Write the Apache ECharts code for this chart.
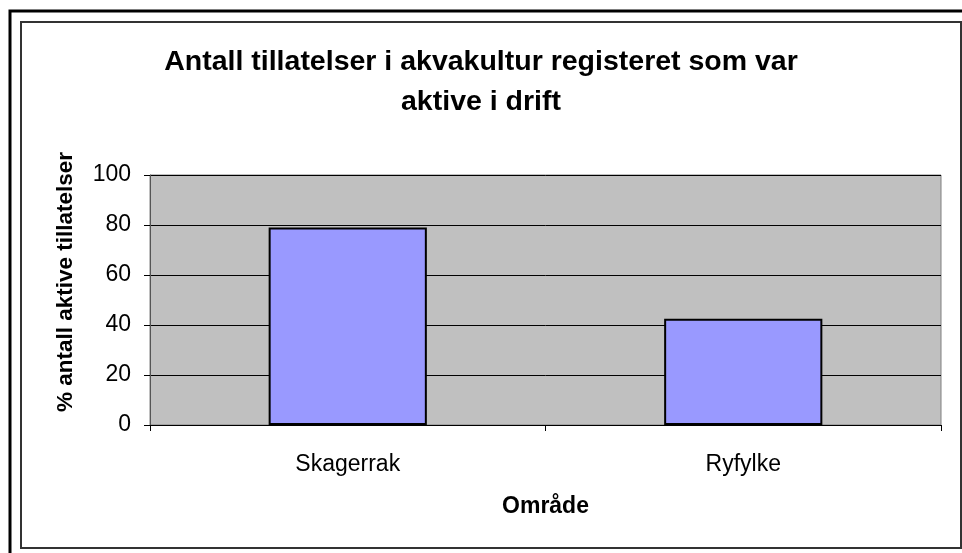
<!DOCTYPE html>
<html>
<head>
<meta charset="utf-8">
<script src="https://cdn.jsdelivr.net/npm/echarts@6/dist/echarts.min.js"></script>
<style>
  html, body { margin: 0; padding: 0; background: #fff; }
  #chart { width: 962px; height: 553px; }
</style>
</head>
<body>
<div id="chart"></div>
<script>
// data
const categories = ["Skagerrak", "Ryfylke"];
const activeShare = [79, 42.5];
const yTicks = [0, 20, 40, 60, 80, 100];

const font = "Liberation Sans, Arial, sans-serif";
let myChart = echarts.init(document.getElementById("chart"));

let option = {
  animation: false,
  backgroundColor: "#fff",
  title: {
    text: "Antall tillatelser i akvakultur registeret som var\naktive i drift",
    left: "center",
    top: 37,
    textStyle: {
      fontFamily: font,
      fontSize: 28.5,
      fontWeight: "bold",
      color: "#000",
      lineHeight: 40,
    },
  },
  grid: {
    left: 150,
    right: 21,
    top: 175,
    bottom: 128,
    show: true,
    backgroundColor: "#c0c0c0",
    borderColor: "#808080",
    borderWidth: 1,
  },
  graphic: [
    {
      type: "rect",
      shape: { x: 10, y: 11, width: 970, height: 560 },
      style: { fill: "none", stroke: "#000", lineWidth: 3 },
      silent: true,
    },
    {
      type: "rect",
      shape: { x: 21, y: 22, width: 940, height: 526 },
      style: { fill: "none", stroke: "#333", lineWidth: 2 },
      silent: true,
    },
  ],
  xAxis: {
    type: "category",
    data: categories,
    name: "Område",
    nameLocation: "middle",
    nameGap: 70,
    nameTextStyle: { fontFamily: font, fontSize: 23, fontWeight: "bold", color: "#000" },
    axisLine: { lineStyle: { color: "#000", width: 1 } },
    axisTick: { show: true, alignWithLabel: false, length: 6, lineStyle: { color: "#000" } },
    axisLabel: { fontFamily: font, fontSize: 23, color: "#000", margin: 28 },
    splitLine: { show: false },
  },
  yAxis: {
    type: "value",
    min: yTicks[0],
    max: yTicks[yTicks.length - 1],
    interval: yTicks[1] - yTicks[0],
    name: "% antall aktive tillatelser",
    nameLocation: "middle",
    nameGap: 73,
    nameRotate: 90,
    nameTextStyle: {
      fontFamily: font,
      fontSize: 22.5,
      fontWeight: "bold",
      color: "#000",
      padding: [0, 0, 0, 36],
    },
    axisLine: { show: true, lineStyle: { color: "#555", width: 1 } },
    axisTick: { show: true, length: 6, lineStyle: { color: "#000" } },
    axisLabel: { fontFamily: font, fontSize: 23, color: "#000", margin: 19 },
    splitLine: { show: true, lineStyle: { color: "#000", width: 1 } },
  },
  series: [
    {
      type: "bar",
      data: activeShare,
      barWidth: "40%",
      itemStyle: { color: "#9999ff", borderColor: "#000", borderWidth: 2 },
    },
  ],
};
myChart.setOption(option);
</script>
</body>
</html>
